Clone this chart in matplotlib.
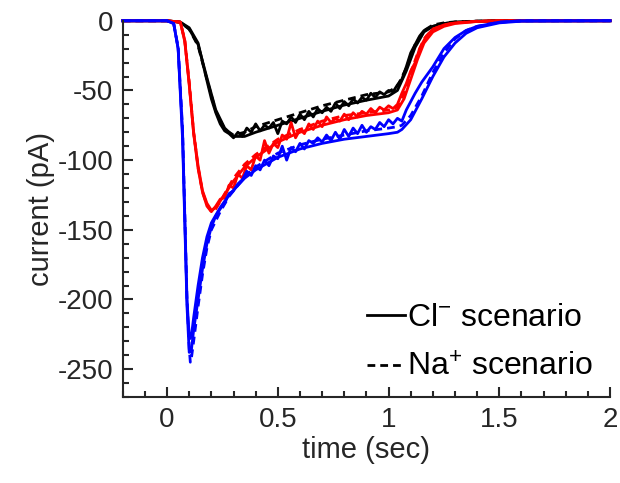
import numpy as np
import matplotlib as mpl
import matplotlib.pyplot as plt
from matplotlib.lines import Line2D
from matplotlib.ticker import MultipleLocator

# global plot style
mpl.rcParams['font.family'] = ['Liberation Sans', 'DejaVu Sans']
mpl.rcParams['mathtext.fontset'] = 'custom'
mpl.rcParams['mathtext.rm'] = 'Liberation Sans'
mpl.rcParams['mathtext.it'] = 'Liberation Sans:italic'
mpl.rcParams['axes.unicode_minus'] = False

# ---- data ----
# black: noisy recording, Cl- model (solid), Na+ model (dashed)
t_black_rec = [-0.2, 0.0, 0.06, 0.10, 0.14, 0.18, 0.20,
               0.22, 0.24, 0.26, 0.28, 0.30, 0.32, 0.34, 0.36, 0.38, 0.40,
               0.42, 0.44, 0.46, 0.48, 0.50, 0.52, 0.54, 0.56, 0.58, 0.60,
               0.62, 0.64, 0.66, 0.68, 0.70, 0.72, 0.74, 0.76, 0.78, 0.80,
               0.82, 0.84, 0.86, 0.88, 0.90, 0.92, 0.94, 0.96, 0.98, 1.00,
               1.02, 1.04, 1.06, 1.08, 1.10, 1.12, 1.14, 1.16, 1.20, 1.25,
               1.30, 1.50, 2.0]
i_black_rec = [0, 0, -1, -5, -16, -43, -56,
               -66, -74, -79, -81, -84, -80, -83, -77, -80, -74,
               -79, -75, -77, -73, -81, -72, -74, -69, -73, -67,
               -71, -65, -69, -63, -66, -62, -65, -59, -63, -58,
               -61, -56, -59, -55, -57, -52, -55, -51, -53, -50,
               -51, -46, -42, -33, -23, -17, -11, -7, -4, -2,
               -1, 0, 0]
t_black_mod = [-0.2, 0.0, 0.06, 0.10, 0.14, 0.18, 0.22, 0.26, 0.30, 0.35,
               0.40, 0.50, 0.60, 0.70, 0.80, 0.90, 1.00, 1.04, 1.08, 1.12,
               1.16, 1.20, 1.25, 1.30, 1.40, 1.50, 2.0]
i_black_cl = [0, 0, -1, -6, -17, -41, -64, -77, -83, -83,
              -80, -75, -70, -65, -60.5, -57, -54, -50, -36, -19,
              -8, -4, -2, -1, -0.3, 0, 0]
i_black_na = [0, 0, -1, -6, -18, -42, -65, -78, -82, -80,
              -76, -71, -66, -61, -57, -53, -51, -47, -34, -17,
              -7, -3, -1.5, -0.8, -0.2, 0, 0]

# red
t_red_rec = [-0.2, 0.0, 0.06, 0.08, 0.10, 0.12, 0.14, 0.16, 0.18, 0.20,
             0.22, 0.24, 0.26, 0.28, 0.30, 0.32, 0.34, 0.36, 0.38, 0.40,
             0.42, 0.44, 0.46, 0.48, 0.50, 0.52, 0.54, 0.56, 0.58, 0.60,
             0.62, 0.64, 0.66, 0.68, 0.70, 0.72, 0.74, 0.76, 0.78, 0.80,
             0.82, 0.84, 0.86, 0.88, 0.90, 0.92, 0.94, 0.96, 0.98, 1.00,
             1.02, 1.04, 1.06, 1.08, 1.10, 1.12, 1.14, 1.17, 1.20, 1.25,
             1.30, 1.40, 1.50, 2.0]
i_red_rec = [0, 0, -1, -14, -46, -81, -106, -123, -133, -137,
             -133, -128, -127, -118, -120, -110, -113, -104, -107, -97,
             -100, -86, -95, -88, -91, -82, -85, -73, -84, -78,
             -81, -74, -78, -72, -76, -69, -73, -70, -72, -67,
             -71, -66, -69, -65, -67, -63, -66, -62, -64, -61,
             -63, -60, -52, -45, -36, -30, -20, -11, -6, -3,
             -1.5, -0.5, 0, 0]
t_red_mod = [-0.2, 0.0, 0.06, 0.08, 0.10, 0.12, 0.14, 0.16, 0.18, 0.20,
             0.22, 0.25, 0.30, 0.35, 0.40, 0.50, 0.60, 0.70, 0.80, 0.90,
             1.00, 1.04, 1.07, 1.10, 1.13, 1.16, 1.20, 1.25, 1.30, 1.40,
             1.50, 2.0]
i_red_cl = [0, 0, -1, -15, -45, -80, -104, -122, -131, -136,
            -134, -127, -115, -105, -98, -87, -80, -75, -71, -68,
            -66, -64, -56, -42, -28, -16, -8, -4, -2, -0.5,
            0, 0]
i_red_na = [0, 0, -1, -14, -44, -80, -105, -123, -132, -137,
            -135, -127, -113, -103, -96, -85, -78, -72, -68, -66,
            -64, -62, -52, -37, -24, -13, -6, -3, -1.5, -0.3,
            0, 0]

# blue
t_blue_rec = [-0.2, 0.0, 0.03, 0.05, 0.07, 0.08, 0.09, 0.10, 0.11, 0.12,
              0.14, 0.16, 0.18, 0.20,
              0.22, 0.24, 0.26, 0.28, 0.30, 0.32, 0.34, 0.36, 0.38, 0.40,
              0.42, 0.44, 0.46, 0.48, 0.50, 0.52, 0.54, 0.56, 0.58, 0.60,
              0.62, 0.64, 0.66, 0.68, 0.70, 0.72, 0.74, 0.76, 0.78, 0.80,
              0.82, 0.84, 0.86, 0.88, 0.90, 0.92, 0.94, 0.96, 0.98, 1.00,
              1.02, 1.04, 1.06, 1.08, 1.10, 1.12, 1.15, 1.20, 1.25, 1.30,
              1.35, 1.40, 1.50, 1.60, 2.0]
i_blue_rec = [0, 0, -2, -20, -85, -145, -205, -238, -236, -222,
              -200, -178, -160, -148,
              -140, -135, -131, -124, -122, -117, -114, -108, -111, -104,
              -107, -100, -104, -97, -99, -90, -100, -91, -94, -88,
              -92, -86, -88, -84, -87, -82, -86, -80, -85, -78,
              -83, -77, -81, -75, -80, -76, -78, -73, -76, -71,
              -74, -70, -72, -64, -58, -52, -44, -33, -20, -12,
              -7, -4, -1, 0, 0]
t_blue_mod = [-0.2, 0.0, 0.03, 0.05, 0.07, 0.08, 0.09, 0.10, 0.105, 0.11,
              0.12, 0.14, 0.16, 0.18, 0.20, 0.24, 0.28, 0.35, 0.40, 0.50,
              0.60, 0.70, 0.80, 0.90, 1.00, 1.04, 1.06, 1.10, 1.15, 1.20,
              1.25, 1.30, 1.35, 1.40, 1.50, 1.60, 2.0]
i_blue_cl = [0, 0, -2, -20, -80, -140, -200, -226, -228, -226,
             -213, -190, -170, -155, -145, -134, -125, -113, -107, -98,
             -92, -88, -85, -83, -81, -80, -78, -71, -56, -40,
             -26, -16, -9, -5, -1.5, -0.3, 0]
i_blue_na = [0, 0, -2, -19, -78, -138, -200, -235, -245, -242,
             -230, -205, -182, -163, -150, -137, -126, -112, -105, -95,
             -89, -85, -82, -79, -77, -76, -75, -68, -54, -37,
             -23, -13, -7, -4, -1, 0, 0]

series = [
    ('k', t_black_rec, i_black_rec, t_black_mod, i_black_cl, i_black_na),
    ('#FF0000', t_red_rec, i_red_rec, t_red_mod, i_red_cl, i_red_na),
    ('#0000FF', t_blue_rec, i_blue_rec, t_blue_mod, i_blue_cl, i_blue_na),
]

dark = '#262626'
fs_tick = 20
fs_label = 21
fs_legend = 23

fig = plt.figure(figsize=(6.2, 4.83), dpi=100)
ax = fig.add_axes([0.198, 0.178, 0.786, 0.779])

lw = 2.0
dash = (0, (2.8, 1.8))
for color, t_rec, i_rec, t_mod, i_cl, i_na in series:
    ax.plot(t_rec, i_rec, color=color, lw=lw, clip_on=False)
    ax.plot(t_mod, i_cl, color=color, lw=lw, clip_on=False)
    ax.plot(t_mod, i_na, color=color, lw=lw, ls=dash, clip_on=False)

ax.set_xlim(-0.2, 2)
ax.set_ylim(-270, 0)
ax.xaxis.set_major_locator(MultipleLocator(0.5))
ax.xaxis.set_minor_locator(MultipleLocator(0.1))
ax.yaxis.set_major_locator(MultipleLocator(50))
ax.yaxis.set_minor_locator(MultipleLocator(10))
ax.xaxis.set_major_formatter(mpl.ticker.FuncFormatter(lambda v, p: '{:g}'.format(v)))

for side in ['top', 'right']:
    ax.spines[side].set_visible(False)
for side in ['left', 'bottom']:
    ax.spines[side].set_linewidth(1.5)
    ax.spines[side].set_color(dark)

ax.tick_params(which='major', direction='in', length=7.5, width=1.5,
               color=dark, labelcolor=dark, labelsize=fs_tick, pad=7)
ax.tick_params(which='minor', direction='in', length=4.3, width=1.5, color=dark)

ax.set_xlabel('time (sec)', fontsize=fs_label, color=dark, labelpad=2)
ax.set_ylabel('current (pA)', fontsize=fs_label, color=dark, labelpad=2)

# legend for model scenarios
handles = [Line2D([], [], color='k', lw=lw),
           Line2D([], [], color='k', lw=lw, ls=dash)]
labels = [r'Cl$^{-}$ scenario', r'Na$^{+}$ scenario']
ax.legend(handles, labels, loc='upper left', bbox_to_anchor=(0.501, 0.25),
          frameon=False, fontsize=fs_legend, handlelength=1.2,
          handletextpad=0.07, labelspacing=0.62, borderaxespad=0, borderpad=0)

fig.savefig('out.png', dpi=100)
